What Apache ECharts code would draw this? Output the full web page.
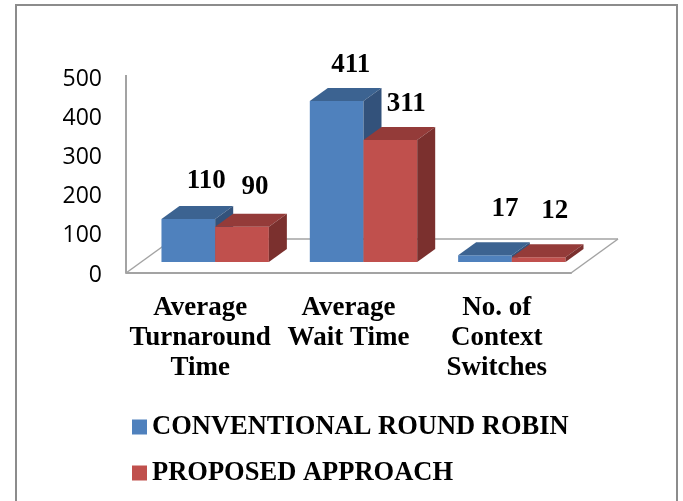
<!DOCTYPE html>
<html>
<head>
<meta charset="utf-8">
<style>html,body{margin:0;padding:0;background:#fff}#chart{width:683px;height:501px}</style>
<script src="https://cdn.jsdelivr.net/npm/echarts@6/dist/echarts.min.js"></script>
</head>
<body>
<div id="chart"></div>
<script>
const categories = ['Average\nTurnaround\nTime', 'Average\nWait Time', 'No. of\nContext\nSwitches'];
const roundRobin = [110, 411, 17];
const proposed = [90, 311, 12];
const yTicks = [0, 500, 100];

// Oblique projection of the floor and the bars
const FLOOR_DEPTH = [47, -34];
const BAR_INSET = [15, -11];
const BAR_DEPTH = [18, -13];
const BAR_SHARE = 0.362;
const SERIF = '"Liberation Serif", serif';
const GREY = '#a3a3a3';

// Value labels sit at hand-placed spots around each column: [dx, dy] from the front-top centre
const rrLabelShift = [[18, -38], [14, -36], [20, -46]];
const propLabelShift = [[13, -40], [16, -36], [16, -46]];

function poly(points, fill) {
  return { type: 'polygon', shape: { points }, style: { fill } };
}

function barRenderer(side, colors, shifts) {
  return function (params, api) {
    const i = api.value(0);
    const v = api.value(1);
    const band = api.size([1, 0])[0];
    const w = band * BAR_SHARE;
    const base = api.coord([i, 0]);
    const top = api.coord([i, v]);
    const x0 = base[0] + BAR_INSET[0] + (side < 0 ? -w : 0);
    const x1 = x0 + w;
    const yb = base[1] + BAR_INSET[1];
    const yt = top[1] + BAR_INSET[1];
    const dx = BAR_DEPTH[0], dy = BAR_DEPTH[1];
    const shift = shifts[i];
    return {
      type: 'group',
      children: [
        poly([[x0, yb], [x1, yb], [x1, yt], [x0, yt]], colors.front),
        poly([[x0, yt], [x1, yt], [x1 + dx, yt + dy], [x0 + dx, yt + dy]], colors.top),
        poly([[x1, yb], [x1 + dx, yb + dy], [x1 + dx, yt + dy], [x1, yt]], colors.side),
        {
          type: 'text',
          z2: 10,
          style: {
            text: String(v),
            x: (x0 + x1) / 2 + shift[0],
            y: yt + shift[1],
            align: 'center',
            verticalAlign: 'middle',
            font: 'bold 27px ' + SERIF,
            fill: '#000'
          }
        }
      ]
    };
  };
}

function renderFloor(params, api) {
  const a = api.coord([0, 0]);
  const band = api.size([1, 0])[0];
  const left = a[0] - band / 2;
  const right = left + band * categories.length;
  const y = a[1];
  const bx = FLOOR_DEPTH[0], by = FLOOR_DEPTH[1];
  const yTop = api.coord([0, yTicks[1]])[1] - 2;
  const line = (x1, y1, x2, y2, width) => ({
    type: 'line',
    shape: { x1, y1, x2, y2 },
    style: { stroke: GREY, lineWidth: width }
  });
  return {
    type: 'group',
    children: [
      line(left, y, left, yTop, 2),
      line(left, y, left + bx, y + by, 1.5),
      line(left + bx, y + by, right + bx, y + by, 1.5),
      line(right, y, right + bx, y + by, 1.5)
    ]
  };
}

const chart = echarts.init(document.getElementById('chart'), null, { renderer: 'canvas' });
chart.setOption({
  backgroundColor: '#fff',
  animation: false,
  graphic: [{
    type: 'rect',
    silent: true,
    shape: { x: 16, y: 5, width: 661, height: 520 },
    style: { fill: 'none', stroke: '#8c8c8c', lineWidth: 2 }
  }],
  grid: { left: 126, right: 112, top: 77, height: 196 },
  xAxis: {
    type: 'category',
    data: categories,
    axisLine: { lineStyle: { color: GREY, width: 2 } },
    axisTick: { show: false },
    axisLabel: {
      interval: 0,
      margin: 20,
      color: '#000',
      fontFamily: SERIF,
      fontWeight: 'bold',
      fontSize: 27,
      lineHeight: 30
    }
  },
  yAxis: {
    type: 'value',
    min: yTicks[0],
    max: yTicks[1],
    interval: yTicks[2],
    axisLine: { show: false },
    axisTick: { show: false },
    splitLine: { show: false },
    axisLabel: {
      margin: 24,
      verticalAlign: 'top',
      lineHeight: 4,
      color: '#000',
      fontFamily: '"Open Sans", sans-serif',
      fontSize: 23
    }
  },
  legend: {
    orient: 'vertical',
    left: 132,
    top: 410,
    padding: 0,
    itemWidth: 15,
    itemHeight: 15,
    itemGap: 12,
    icon: 'rect',
    data: ['CONVENTIONAL ROUND ROBIN', 'PROPOSED APPROACH'],
    textStyle: {
      color: '#000',
      fontFamily: SERIF,
      fontWeight: 'bold',
      fontSize: 26.5,
      lineHeight: 30,
      padding: [4, 0, 0, 0]
    }
  },
  series: [
    {
      name: 'floor',
      type: 'custom',
      clip: false,
      silent: true,
      renderItem: renderFloor,
      data: [[0, 0]],
      encode: { x: 0, y: 1 },
      z: 1
    },
    {
      name: 'CONVENTIONAL ROUND ROBIN',
      type: 'custom',
      clip: false,
      renderItem: barRenderer(-1, { front: '#4f81bd', top: '#3c6391', side: '#33527b' }, rrLabelShift),
      itemStyle: { color: '#4f81bd' },
      data: roundRobin.map((v, i) => [i, v]),
      encode: { x: 0, y: 1 },
      z: 2
    },
    {
      name: 'PROPOSED APPROACH',
      type: 'custom',
      clip: false,
      renderItem: barRenderer(1, { front: '#c0504d', top: '#943b39', side: '#7b302e' }, propLabelShift),
      itemStyle: { color: '#c0504d' },
      data: proposed.map((v, i) => [i, v]),
      encode: { x: 0, y: 1 },
      z: 3
    }
  ]
});
</script>
</body>
</html>
